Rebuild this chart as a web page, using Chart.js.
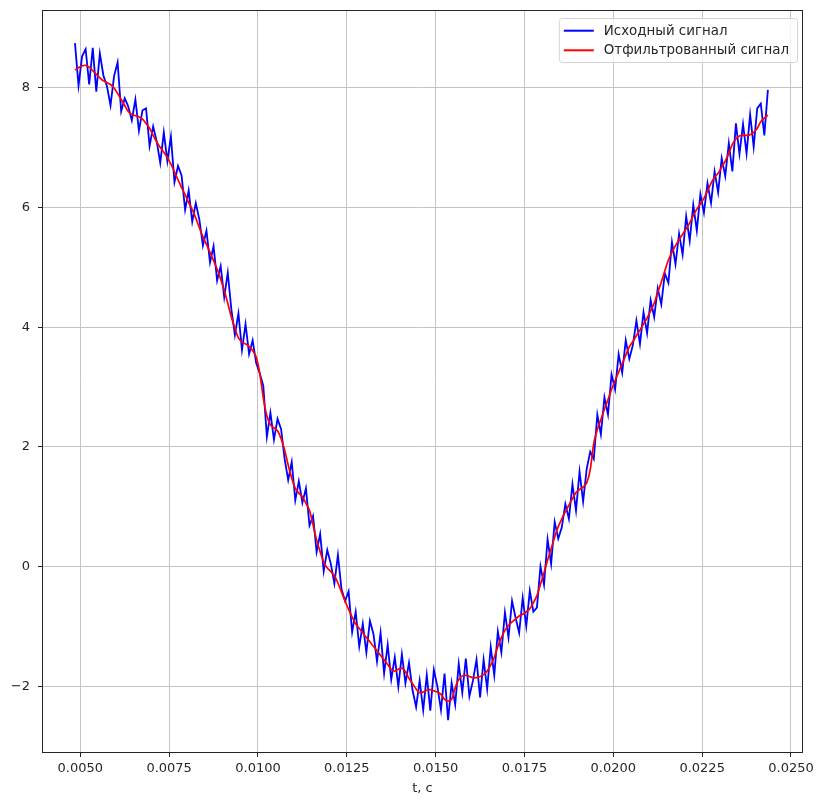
<!DOCTYPE html>
<html>
<head>
<meta charset="utf-8">
<script src="https://cdn.jsdelivr.net/npm/chart.js@4.4.1/dist/chart.umd.min.js"></script>
<style>
    html, body { margin: 0; padding: 0; background: #fff; }
    #wrap { width: 819px; height: 799px; }
</style>
</head>
<body>
<div id="wrap"><canvas id="chartSignal"></canvas></div>
<script>
// time, s (sampled every 0.1 ms)
const times = [
    0.00485, 0.00495, 0.00505, 0.00515, 0.00525, 0.00535, 0.00545, 0.00555, 0.00565, 0.00575,
    0.00585, 0.00595, 0.00605, 0.00615, 0.00625, 0.00635, 0.00645, 0.00655, 0.00665, 0.00675,
    0.00685, 0.00695, 0.00705, 0.00715, 0.00725, 0.00735, 0.00745, 0.00755, 0.00765, 0.00775,
    0.00785, 0.00795, 0.00805, 0.00815, 0.00825, 0.00835, 0.00845, 0.00855, 0.00865, 0.00875,
    0.00885, 0.00895, 0.00905, 0.00915, 0.00925, 0.00935, 0.00945, 0.00955, 0.00965, 0.00975,
    0.00985, 0.00995, 0.01005, 0.01015, 0.01025, 0.01035, 0.01045, 0.01055, 0.01065, 0.01075,
    0.01085, 0.01095, 0.01105, 0.01115, 0.01125, 0.01135, 0.01145, 0.01155, 0.01165, 0.01175,
    0.01185, 0.01195, 0.01205, 0.01215, 0.01225, 0.01235, 0.01245, 0.01255, 0.01265, 0.01275,
    0.01285, 0.01295, 0.01305, 0.01315, 0.01325, 0.01335, 0.01345, 0.01355, 0.01365, 0.01375,
    0.01385, 0.01395, 0.01405, 0.01415, 0.01425, 0.01435, 0.01445, 0.01455, 0.01465, 0.01475,
    0.01485, 0.01495, 0.01505, 0.01515, 0.01525, 0.01535, 0.01545, 0.01555, 0.01565, 0.01575,
    0.01585, 0.01595, 0.01605, 0.01615, 0.01625, 0.01635, 0.01645, 0.01655, 0.01665, 0.01675,
    0.01685, 0.01695, 0.01705, 0.01715, 0.01725, 0.01735, 0.01745, 0.01755, 0.01765, 0.01775,
    0.01785, 0.01795, 0.01805, 0.01815, 0.01825, 0.01835, 0.01845, 0.01855, 0.01865, 0.01875,
    0.01885, 0.01895, 0.01905, 0.01915, 0.01925, 0.01935, 0.01945, 0.01955, 0.01965, 0.01975,
    0.01985, 0.01995, 0.02005, 0.02015, 0.02025, 0.02035, 0.02045, 0.02055, 0.02065, 0.02075,
    0.02085, 0.02095, 0.02105, 0.02115, 0.02125, 0.02135, 0.02145, 0.02155, 0.02165, 0.02175,
    0.02185, 0.02195, 0.02205, 0.02215, 0.02225, 0.02235, 0.02245, 0.02255, 0.02265, 0.02275,
    0.02285, 0.02295, 0.02305, 0.02315, 0.02325, 0.02335, 0.02345, 0.02355, 0.02365, 0.02375,
    0.02385, 0.02395, 0.02405, 0.02415, 0.02425, 0.02435
];

// noisy input
const rawSignal = [
    8.74, 8.03, 8.52, 8.64, 8.05, 8.66, 7.93, 8.57, 8.20, 8.02,
    7.70, 8.19, 8.42, 7.60, 7.82, 7.68, 7.45, 7.80, 7.28, 7.62,
    7.65, 7.02, 7.35, 7.10, 6.74, 7.25, 6.77, 7.18, 6.42, 6.69,
    6.53, 5.96, 6.28, 5.76, 6.07, 5.80, 5.36, 5.61, 5.08, 5.35,
    4.78, 5.02, 4.50, 4.91, 4.30, 3.87, 4.23, 3.62, 4.05, 3.55,
    3.78, 3.40, 3.23, 3.02, 2.17, 2.57, 2.12, 2.47, 2.30, 1.80,
    1.45, 1.75, 1.11, 1.43, 1.07, 1.31, 0.69, 0.85, 0.25, 0.55,
    -0.07, 0.28, 0.05, -0.28, 0.20, -0.37, -0.57, -0.41, -1.09, -0.75,
    -1.33, -0.95, -1.43, -0.90, -1.12, -1.58, -1.10, -1.78, -1.30, -1.88,
    -1.51, -2.00, -1.46, -1.94, -1.60, -2.06, -2.34, -1.90, -2.39, -1.81,
    -2.40, -1.72, -2.00, -2.39, -1.78, -2.56, -1.94, -2.30, -1.62, -2.10,
    -1.53, -2.16, -1.90, -1.55, -2.18, -1.55, -2.04, -1.34, -1.81, -1.08,
    -1.43, -0.76, -1.18, -0.57, -0.85, -1.10, -0.52, -0.99, -0.40, -0.75,
    -0.68, 0.01, -0.30, 0.46, 0.05, 0.75, 0.47, 0.66, 1.05, 0.80,
    1.38, 0.94, 1.59, 1.09, 1.63, 1.92, 1.80, 2.54, 2.21, 2.83,
    2.54, 3.21, 2.96, 3.55, 3.24, 3.78, 3.47, 3.70, 4.11, 3.72,
    4.25, 3.90, 4.45, 4.17, 4.65, 4.38, 4.90, 4.74, 5.42, 5.05,
    5.56, 5.21, 5.85, 5.44, 6.04, 5.61, 6.22, 5.91, 6.40, 6.07,
    6.60, 6.25, 6.82, 6.52, 7.07, 6.60, 7.40, 6.89, 7.39, 6.90,
    7.55, 7.01, 7.65, 7.73, 7.20, 7.96
];

// filtered output
const filtered = [
    8.29, 8.33, 8.36, 8.37, 8.34, 8.28, 8.22, 8.16, 8.11, 8.08,
    8.05, 7.99, 7.90, 7.80, 7.70, 7.60, 7.55, 7.53, 7.51, 7.47,
    7.40, 7.32, 7.20, 7.09, 7.00, 6.92, 6.83, 6.72, 6.59, 6.46,
    6.33, 6.21, 6.08, 5.96, 5.82, 5.66, 5.51, 5.38, 5.25, 5.11,
    4.97, 4.80, 4.61, 4.40, 4.17, 3.98, 3.82, 3.75, 3.72, 3.68,
    3.61, 3.50, 3.23, 2.82, 2.52, 2.37, 2.32, 2.27, 2.14, 1.95,
    1.70, 1.48, 1.31, 1.23, 1.17, 1.06, 0.94, 0.70, 0.45, 0.25,
    0.08, -0.02, -0.08, -0.15, -0.27, -0.42, -0.57, -0.71, -0.84, -0.95,
    -1.03, -1.10, -1.18, -1.25, -1.33, -1.40, -1.48, -1.55, -1.63, -1.71,
    -1.74, -1.71, -1.69, -1.75, -1.86, -1.95, -2.04, -2.10, -2.09, -2.06,
    -2.05, -2.07, -2.09, -2.13, -2.21, -2.24, -2.21, -2.02, -1.88, -1.82,
    -1.81, -1.83, -1.85, -1.85, -1.83, -1.80, -1.74, -1.64, -1.51, -1.33,
    -1.18, -1.06, -0.98, -0.92, -0.87, -0.82, -0.79, -0.75, -0.70, -0.60,
    -0.48, -0.29, -0.10, 0.11, 0.30, 0.50, 0.67, 0.80, 0.92, 1.03,
    1.14, 1.24, 1.29, 1.33, 1.40, 1.62, 2.06, 2.29, 2.46, 2.63,
    2.79, 2.96, 3.11, 3.25, 3.39, 3.53, 3.67, 3.76, 3.86, 3.95,
    4.05, 4.15, 4.27, 4.40, 4.58, 4.75, 4.94, 5.12, 5.25, 5.36,
    5.46, 5.55, 5.64, 5.74, 5.86, 5.97, 6.06, 6.15, 6.27, 6.40,
    6.50, 6.57, 6.67, 6.77, 6.90, 7.05, 7.14, 7.19, 7.20, 7.20,
    7.21, 7.25, 7.32, 7.43, 7.49, 7.54
];

const xTicks = [0.005, 0.0075, 0.01, 0.0125, 0.015, 0.0175, 0.02, 0.0225, 0.025];
const yTicks = [-2, 0, 2, 4, 6, 8];
const seriesNames = ['Исходный сигнал', 'Отфильтрованный сигнал'];
const seriesColors = ['#0000ff', '#ff0000'];
const xTitle = 't, c';

const FONT = "'DejaVu Sans', sans-serif";
const INK = '#262626';

const toPoints = vals => vals.map((v, i) => ({ x: times[i], y: v }));

// axes frame + matplotlib-like legend in the upper right corner
const framePlugin = {
    id: 'frame',
    afterDatasetsDraw(chart) {
        const { ctx, chartArea: a } = chart;
        ctx.save();
        ctx.strokeStyle = INK;
        ctx.lineWidth = 1;
        ctx.strokeRect(Math.round(a.left) + 0.5, Math.round(a.top) + 0.5,
            Math.round(a.right - a.left) - 1, Math.round(a.bottom - a.top) - 1);

        ctx.font = '13.4px ' + FONT;
        const textW = Math.max(...seriesNames.map(s => ctx.measureText(s).width));
        const bw = 45 + textW + 8, bh = 44;
        const bx = a.right - 6 - bw, by = a.top + 8;
        ctx.beginPath();
        ctx.roundRect(bx + 0.5, by + 0.5, bw, bh, 3);
        ctx.fillStyle = 'rgba(255,255,255,0.8)';
        ctx.fill();
        ctx.strokeStyle = '#d4d4d4';
        ctx.stroke();

        ctx.textBaseline = 'middle';
        ctx.textAlign = 'left';
        seriesNames.forEach((name, i) => {
            const y = by + 12.7 + i * 19.6;
            ctx.strokeStyle = seriesColors[i];
            ctx.lineWidth = 2;
            ctx.beginPath();
            ctx.moveTo(bx + 5, y);
            ctx.lineTo(bx + 35, y);
            ctx.stroke();
            ctx.fillStyle = INK;
            ctx.fillText(name, bx + 45, y + 0.5);
        });
        ctx.restore();
    }
};

new Chart(document.getElementById('chartSignal'), {
    type: 'line',
    data: {
        datasets: [
            {
                label: seriesNames[0], data: toPoints(rawSignal),
                borderColor: seriesColors[0], borderWidth: 1.8,
                pointRadius: 0, tension: 0, order: 2
            },
            {
                label: seriesNames[1], data: toPoints(filtered),
                borderColor: seriesColors[1], borderWidth: 1.7,
                pointRadius: 0, tension: 0.3, order: 1
            }
        ]
    },
    options: {
        responsive: true, maintainAspectRatio: false,
        animation: false,
        parsing: false,
        layout: { padding: { top: 10, right: 16, left: 0, bottom: 0 } },
        plugins: { legend: { display: false }, tooltip: { enabled: false } },
        scales: {
            x: {
                type: 'linear',
                min: 0.003922, max: 0.025338,
                afterBuildTicks: s => { s.ticks = xTicks.map(v => ({ value: v })); },
                afterFit: s => { s.height = 46; },
                ticks: {
                    callback: v => v.toFixed(4),
                    color: INK, font: { family: FONT, size: 13 },
                    padding: 4, maxRotation: 0, autoSkip: false
                },
                grid: { color: '#c4c4c4', lineWidth: 1, tickLength: 4, tickColor: INK },
                border: { display: false },
                title: {
                    display: true, text: xTitle, color: INK,
                    font: { family: FONT, size: 13 }, padding: { top: 0, bottom: 3 }
                }
            },
            y: {
                min: -3.107, max: 9.293,
                afterBuildTicks: s => { s.ticks = yTicks.map(v => ({ value: v })); },
                afterFit: s => { s.width = 42; s.paddingTop = 0; s.paddingBottom = 0; },
                ticks: {
                    callback: v => v < 0 ? '\u2212' + Math.abs(v) : String(v),
                    color: INK, font: { family: FONT, size: 13 },
                    padding: 8, autoSkip: false
                },
                grid: { color: '#c4c4c4', lineWidth: 1, tickLength: 4, tickColor: INK },
                border: { display: false }
            }
        }
    },
    plugins: [framePlugin]
});
</script>
</body>
</html>
